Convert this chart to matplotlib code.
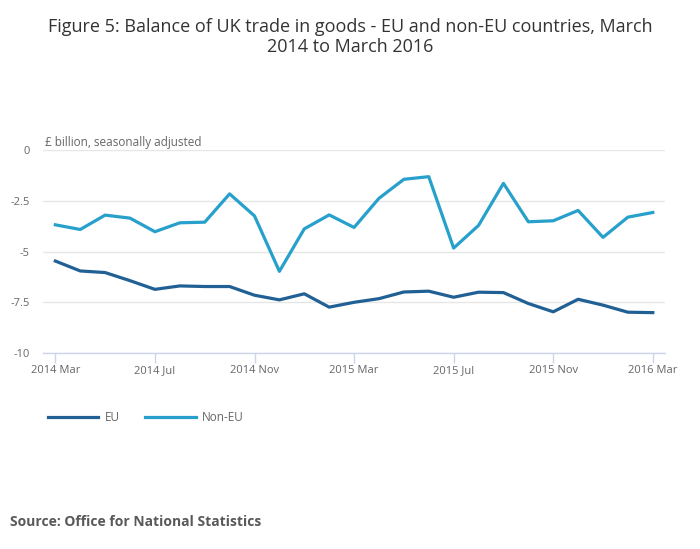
import matplotlib
matplotlib.use("Agg")
import matplotlib.pyplot as plt

plt.rcParams['font.family'] = ['Open Sans', 'DejaVu Sans']

months = ["2014 Mar", "2014 Apr", "2014 May", "2014 Jun", "2014 Jul", "2014 Aug", "2014 Sep",
          "2014 Oct", "2014 Nov", "2014 Dec", "2015 Jan", "2015 Feb", "2015 Mar", "2015 Apr",
          "2015 May", "2015 Jun", "2015 Jul", "2015 Aug", "2015 Sep", "2015 Oct", "2015 Nov",
          "2015 Dec", "2016 Jan", "2016 Feb", "2016 Mar"]
eu = [-5.47, -5.96, -6.04, -6.44, -6.87, -6.70, -6.73, -6.73, -7.16, -7.39, -7.09, -7.75,
      -7.51, -7.33, -7.00, -6.96, -7.26, -7.01, -7.03, -7.57, -7.98, -7.36, -7.65, -8.00, -8.02]
non_eu = [-3.68, -3.91, -3.20, -3.35, -4.02, -3.58, -3.55, -2.15, -3.24, -5.98, -3.88, -3.19,
          -3.81, -2.37, -1.43, -1.30, -4.83, -3.71, -1.63, -3.53, -3.48, -2.97, -4.30, -3.30, -3.07]
y_ticks = [0, -2.5, -5, -7.5, -10]
y_tick_labels = ["0", "-2.5", "-5", "-7.5", "-10"]

fig = plt.figure(figsize=(7.0, 5.49), dpi=100)
ax = fig.add_axes([0.062, 0.3576, 0.888, 0.3685])

x = list(range(len(months)))
eu_color = "#206095"
non_color = "#27a0cc"
ax.plot(x, eu, color=eu_color, lw=2.3, solid_joinstyle='round', label="EU")
ax.plot(x, non_eu, color=non_color, lw=2.3, solid_joinstyle='round', label="Non-EU")

ax.set_xlim(-0.48, 24.49)
ax.set_ylim(-10, 0)
ax.grid(axis='y', color='#e6e6e6', lw=1)
ax.set_axisbelow(True)
for s in ['top', 'right', 'left']:
    ax.spines[s].set_visible(False)
ax.spines['bottom'].set_color('#ccd6eb')
ax.spines['bottom'].set_linewidth(1)
ax.tick_params(axis='y', length=0, pad=10, labelsize=8, labelcolor='#666666')
ax.tick_params(axis='x', length=7, width=1, color='#ccd6eb', pad=7.5, labelsize=8, labelcolor='#666666')

ax.set_yticks(y_ticks)
ax.set_yticklabels(y_tick_labels)
tick_idx = list(range(0, len(months), 4))
ax.set_xticks(tick_idx)
ax.set_xticklabels([months[i] for i in tick_idx])
for lab in ax.get_xticklabels():
    lab.set_verticalalignment('baseline')

ax.text(0.003, 1.005, "£ billion, seasonally adjusted", transform=ax.transAxes,
        fontsize=8.5, color='#666666', ha='left', va='bottom')

fig.text(0.5, 0.968, "Figure 5: Balance of UK trade in goods - EU and non-EU countries, March\n2014 to March 2016",
         ha='center', va='top', fontsize=13, color='#333333', linespacing=1.15)

leg = fig.legend(loc='upper left', bbox_to_anchor=(0.053, 0.27), ncol=2, frameon=False,
                 fontsize=8.5, handlelength=4.3, handletextpad=0.5, columnspacing=2.2,
                 labelcolor='#666666')

fig.text(0.014, 0.05, "Source: Office for National Statistics", fontsize=10,
         fontweight='bold', color='#595959', ha='left', va='center')

fig.savefig("out.png", dpi=100)
